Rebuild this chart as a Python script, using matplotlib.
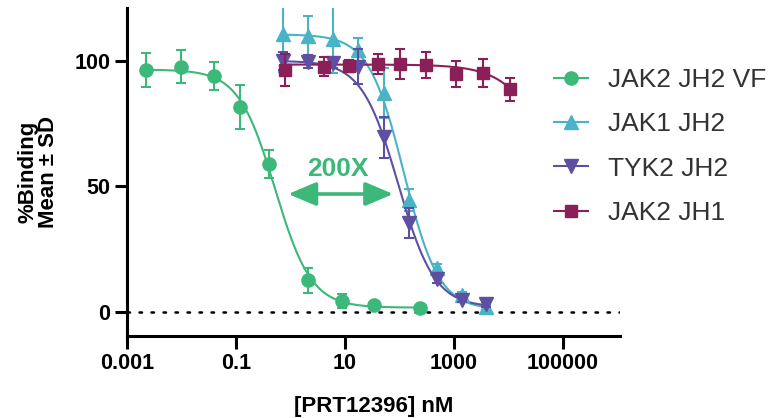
import numpy as np
import matplotlib
matplotlib.use("Agg")
import matplotlib.pyplot as plt
from matplotlib.lines import Line2D

plt.rcParams['font.family'] = ['Liberation Sans', 'DejaVu Sans']

# ---- data ----
series_names = ["JAK2 JH2 VF", "JAK1 JH2", "TYK2 JH2", "JAK2 JH1"]

vf_x = [0.0022, 0.0099, 0.040, 0.12, 0.41, 2.06, 8.9, 34.5, 234]
vf_y = [96.4, 97.6, 94.0, 81.6, 59.1, 12.7, 4.4, 2.8, 1.5]
vf_sd = [6.8, 6.6, 5.6, 8.8, 5.6, 5.0, 2.7, 1.0, 1.0]

jak1_x = [0.72, 2.1, 6.0, 17.3, 53, 153, 488, 1400, 3900]
jak1_y = [110.7, 110.0, 108.5, 104.3, 87.1, 44.5, 17.6, 7.0, 1.9]
jak1_sd = [15.0, 7.7, 13.2, 4.6, 10.0, 4.4, 1.5, 1.0, 1.0]

tyk2_x = [0.72, 2.1, 6.0, 17.3, 53, 153, 488, 1400, 3900]
tyk2_y = [99.8, 99.7, 99.3, 97.7, 69.6, 35.3, 13.0, 5.0, 3.2]
tyk2_sd = [3.5, 2.5, 2.0, 7.0, 8.2, 6.0, 1.5, 1.0, 1.0]

jh1_x = [0.80, 4.2, 12, 40, 104, 306, 1100, 3400, 10500]
jh1_y = [96.3, 97.7, 97.9, 98.7, 98.7, 98.2, 94.8, 95.0, 88.7]
jh1_sd = [6.2, 3.9, 2.3, 3.9, 6.1, 5.1, 5.1, 5.6, 4.6]

# fitted 4PL parameters (top, bottom, IC50, hill) estimated from the curves
vf_fit = (96.5, 1.8, 0.52, 1.3)
jak1_fit = (110.5, 1.0, 120.0, 1.35)
tyk2_fit = (100.0, 2.0, 95.0, 1.3)
jh1_fit = (98.5, 0.0, 1.0e5, 1.0)

x_ticks = [0.001, 0.1, 10, 1000, 100000]
x_tick_labels = ["0.001", "0.1", "10", "1000", "100000"]
y_ticks = [0, 50, 100]

colors = ["#3cb878", "#4bb3c6", "#5e4fa2", "#8b1f58"]
markers = ["o", "^", "v", "s"]
msizes = [9.5, 10, 10, 9]


def four_pl(x, top, bottom, ic50, hill):
    return bottom + (top - bottom) / (1.0 + (x / ic50) ** hill)


fig = plt.figure(figsize=(7.77, 4.18), dpi=100)
ax = fig.add_axes([127 / 777, (418 - 336) / 418, (620 - 127) / 777, (336 - 8) / 418])
ax.set_xscale("log")
ax.set_xlim(1e-3, 1.12e6)
ax.set_ylim(-9.5, 121)

ax.axhline(0, color="black", lw=1.8, ls=(0, (1, 3.8)), dash_capstyle="round", zorder=1)

all_series = [
    (vf_x, vf_y, vf_sd, vf_fit),
    (jak1_x, jak1_y, jak1_sd, jak1_fit),
    (tyk2_x, tyk2_y, tyk2_sd, tyk2_fit),
    (jh1_x, jh1_y, jh1_sd, jh1_fit),
]

handles = []
for i, (xs, ys, sds, fit) in enumerate(all_series):
    c = colors[i]
    xx = np.logspace(np.log10(min(xs)), np.log10(max(xs)), 300)
    ax.plot(xx, four_pl(xx, *fit), color=c, lw=1.5, zorder=2 + i)
    ax.errorbar(xs, ys, yerr=sds, fmt=markers[i], color=c, ms=msizes[i],
                mec=c, mfc=c, elinewidth=1.5, capsize=3.6, capthick=1.5,
                zorder=3 + i)
    handles.append(Line2D([], [], color=c, lw=1.5, marker=markers[i],
                          ms=msizes[i], mfc=c, mec=c))

ax.set_xticks(x_ticks)
ax.set_xticklabels(x_tick_labels)
ax.xaxis.set_minor_locator(matplotlib.ticker.NullLocator())
ax.set_yticks(y_ticks)

for s in ["top", "right"]:
    ax.spines[s].set_visible(False)
for s in ["left", "bottom"]:
    ax.spines[s].set_linewidth(2.2)

ax.tick_params(axis="both", which="major", length=9, width=2.2, labelsize=15.5)
ax.tick_params(axis="x", pad=3)
ax.tick_params(axis="y", pad=3)
for lab in ax.get_xticklabels() + ax.get_yticklabels():
    lab.set_fontweight("bold")

ax.set_xlabel("[PRT12396] nM", fontsize=16, fontweight="bold", labelpad=16)
ax.set_ylabel("%Binding\nMean ± SD", fontsize=16, fontweight="bold", labelpad=11,
              linespacing=1.0)

# 200X annotation with double arrow
ax.annotate("", xy=(0.91, 47), xytext=(77, 47),
            arrowprops=dict(arrowstyle="<|-|>,head_length=1.7,head_width=0.72",
                            mutation_scale=10, color=colors[0], lw=2.6,
                            shrinkA=0, shrinkB=0))
ax.text(7.3, 57.0, "200X", color=colors[0], fontsize=19, fontweight="bold",
        ha="center", va="center")

fig.legend(handles, series_names, loc="upper left",
           bbox_to_anchor=(554 / 777, 1 - 68 / 418), frameon=False,
           fontsize=19, borderpad=0, borderaxespad=0, handlelength=1.3,
           handletextpad=0.74, labelspacing=0.77, labelcolor="#333333")

fig.savefig("out.png", dpi=100)
